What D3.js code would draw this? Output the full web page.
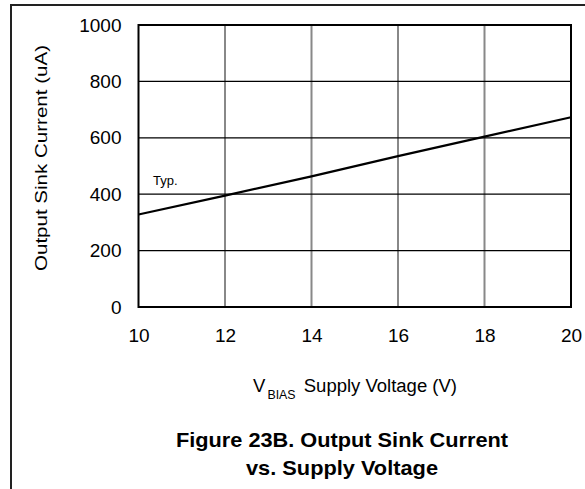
<!DOCTYPE html>
<html><head><meta charset="utf-8">
<script src="https://cdn.jsdelivr.net/npm/d3@7"></script>
<style>body{margin:0;background:#fff}svg{display:block}</style>
</head><body>
<script>
const voltages = [10, 12, 14, 16, 18, 20];
const sinkCurrent = [328, 395, 463, 535, 604, 673];
const xTicks = [10, 12, 14, 16, 18, 20];
const yTicks = [0, 200, 400, 600, 800, 1000];
const yTitle = "Output Sink Current (uA)";
const titleLines = ["Figure 23B. Output Sink Current", "vs. Supply Voltage"];
const seriesLabel = "Typ.";

const W = 585, H = 489;
const svg = d3.select("body").append("svg").attr("width", W).attr("height", H);
const font = "'Liberation Sans', Arial, sans-serif";
const narrow = "'Liberation Sans Narrow', 'Liberation Sans', Arial, sans-serif";

// outer frame
svg.append("path").attr("d", `M11,${H} L11,5 L${W},5`).attr("fill", "none")
  .attr("stroke", "#222").attr("stroke-width", 2);

const x = d3.scaleLinear().domain([10, 20]).range([138.5, 571]);
const y = d3.scaleLinear().domain([0, 1000]).range([307, 25]);

// gridlines
svg.append("g").selectAll("line").data(xTicks.slice(1, -1)).join("line")
  .attr("x1", d => x(d)).attr("x2", d => x(d)).attr("y1", y(1000)).attr("y2", y(0))
  .attr("stroke", "#888").attr("stroke-width", 2);
svg.append("g").selectAll("line").data(yTicks.slice(1, -1)).join("line")
  .attr("x1", x(10)).attr("x2", x(20)).attr("y1", d => y(d)).attr("y2", d => y(d))
  .attr("stroke", "#000").attr("stroke-width", 1.2);

// plot border
svg.append("rect").attr("x", x(10)).attr("y", y(1000)).attr("width", x(20) - x(10))
  .attr("height", y(0) - y(1000)).attr("fill", "none").attr("stroke", "#000").attr("stroke-width", 2);

// axes labels via d3 axes
const yAxis = svg.append("g").attr("transform", `translate(${x(10)},0)`)
  .call(d3.axisLeft(y).tickValues(yTicks).tickFormat(d3.format("d")).tickSize(0).tickPadding(17));
yAxis.select(".domain").remove();
yAxis.selectAll("text").attr("font-family", font).attr("font-size", 19).attr("fill", "#000");

const xAxis = svg.append("g").attr("transform", `translate(0,${y(0)})`)
  .call(d3.axisBottom(x).tickValues(xTicks).tickFormat(d3.format("d")).tickSize(0).tickPadding(22));
xAxis.select(".domain").remove();
xAxis.selectAll("text").attr("font-family", font).attr("font-size", 19).attr("fill", "#000");

// line
const line = d3.line().x((d, i) => x(voltages[i])).y(d => y(d));
svg.append("path").datum(sinkCurrent).attr("d", line).attr("fill", "none")
  .attr("stroke", "#000").attr("stroke-width", 2.2);

svg.append("text").attr("x", 153).attr("y", 185).attr("font-family", font)
  .attr("font-size", 13).text(seriesLabel);

// y title
svg.append("text").attr("transform", `translate(47,158) rotate(-90)`)
  .attr("text-anchor", "middle").attr("font-family", narrow).attr("font-size", 17)
  .attr("textLength", 226).attr("lengthAdjust", "spacingAndGlyphs").text(yTitle);

// x title
const xt = svg.append("text").attr("x", 253).attr("y", 392).attr("font-family", narrow).attr("font-size", 18);
xt.append("tspan").text("V");
xt.append("tspan").attr("dy", 7).attr("font-size", 12).attr("dx", 2).text("BIAS");
xt.append("tspan").attr("dy", -7).attr("dx", 8).text("Supply  Voltage (V)");
xt.attr("textLength", 204).attr("lengthAdjust", "spacingAndGlyphs");

// title
svg.append("g").selectAll("text").data(titleLines).join("text")
  .attr("x", 342).attr("y", (d, i) => 447 + i * 28).attr("text-anchor", "middle")
  .attr("font-family", font).attr("font-weight", "bold").attr("font-size", 21)
  .attr("textLength", (d, i) => i === 0 ? 332 : 192).attr("lengthAdjust", "spacingAndGlyphs")
  .text(d => d);
</script>
</body></html>
